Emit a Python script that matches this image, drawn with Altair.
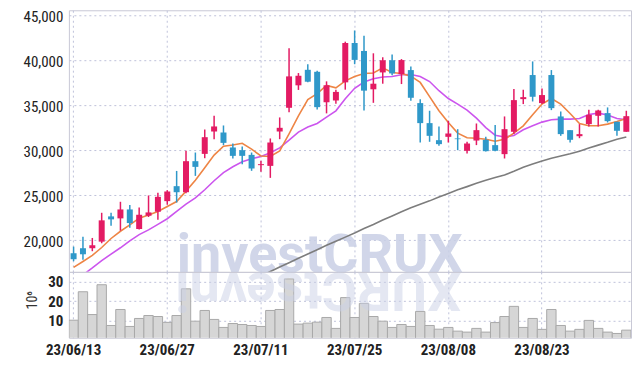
import altair as alt
import pandas as pd

dates = [
    "23/06/13", "23/06/14", "23/06/15", "23/06/16", "23/06/19", "23/06/20", "23/06/21", "23/06/22", "23/06/23", "23/06/26",
    "23/06/27", "23/06/28", "23/06/29", "23/06/30", "23/07/03", "23/07/04", "23/07/05", "23/07/06", "23/07/07", "23/07/10",
    "23/07/11", "23/07/12", "23/07/13", "23/07/14", "23/07/17", "23/07/18", "23/07/19", "23/07/20", "23/07/21", "23/07/24",
    "23/07/25", "23/07/26", "23/07/27", "23/07/28", "23/07/31", "23/08/01", "23/08/02", "23/08/03", "23/08/04", "23/08/07",
    "23/08/08", "23/08/09", "23/08/10", "23/08/11", "23/08/14", "23/08/16", "23/08/17", "23/08/18", "23/08/21", "23/08/22",
    "23/08/23", "23/08/24", "23/08/25", "23/08/28", "23/08/29", "23/08/30", "23/08/31", "23/09/01", "23/09/04", "23/09/05",
]
opens = [
    18565, 19120, 19120, 19850, 22650, 22430, 23420, 21250, 22720, 23170,
    24340, 26000, 25330, 28770, 29580, 32060, 31950, 30290, 29990, 29470,
    28330, 28250, 32060, 34690, 37180, 38900, 38680, 35310, 35500, 37510,
    41870, 40990, 36740, 38610, 39960, 38430, 38870, 35210, 32990, 31100,
    31470, 31290, 29920, 31060, 31140, 30550, 29550, 32030, 35650, 38320,
    35210, 38320, 33730, 32210, 31540, 32880, 33800, 34100, 33140, 32030,
]
highs = [
    19300, 20400, 20260, 23050, 23050, 24270, 23900, 23640, 24970, 25260,
    25560, 27690, 29920, 29730, 32280, 33800, 32730, 30730, 30400, 29730,
    28810, 31290, 33620, 41280, 38540, 39520, 38790, 37620, 36700, 42020,
    43260, 42670, 40730, 40290, 40600, 40090, 39280, 35650, 34360, 32620,
    33250, 32320, 30920, 32950, 31470, 32770, 33730, 36760, 36690, 39830,
    36840, 38870, 34280, 32210, 32880, 34470, 34470, 34730, 33140, 34360,
]
lows = [
    17680, 17830, 18790, 19670, 21620, 21070, 21400, 21210, 22580, 22280,
    23940, 24180, 25220, 27140, 29100, 31210, 30550, 29070, 28440, 27700,
    27590, 26920, 31210, 34190, 36670, 37510, 34510, 34070, 35130, 36700,
    39520, 34400, 35240, 37360, 38300, 37320, 35470, 30840, 30920, 30470,
    30840, 29990, 29620, 30550, 29840, 29880, 29070, 31770, 35100, 35390,
    35100, 34430, 31580, 30840, 31320, 32620, 32620, 33060, 31580, 32030,
]
closes = [
    17900, 18450, 19450, 22210, 22320, 23420, 21910, 22830, 23090, 24820,
    25410, 25330, 28770, 28140, 31430, 32620, 30800, 29360, 29360, 27960,
    28440, 30840, 32470, 38170, 38240, 37580, 34760, 37180, 36450, 41870,
    40000, 36590, 37360, 39960, 38500, 39980, 35800, 32990, 31580, 30660,
    31840, 31210, 30730, 32210, 29880, 29920, 32320, 35540, 35870, 35910,
    36100, 34650, 31770, 31140, 31770, 33910, 34390, 33210, 32140, 33760,
]
volumes = [
    10.3, 24.9, 13.2, 28.5, 7.6, 15.8, 7.1, 11.2, 12.7, 12.2,
    9.2, 12.7, 26.4, 9.8, 15.3, 10.7, 6.6, 8.6, 8.1, 7.6,
    7.1, 15.3, 15.8, 31.5, 8.3, 8.8, 9.3, 11.7, 6.1, 21.9,
    11.7, 18.9, 12.2, 9.8, 6.6, 8.1, 7.1, 14.8, 7.6, 5.7,
    6.6, 4.7, 4.2, 6.1, 4.2, 9.1, 12.2, 17.4, 6.6, 11.2,
    5.6, 15.8, 7.6, 4.7, 5.6, 10.2, 6.1, 4.2, 3.5, 5.2,
]
ma_short = [
    17000, 17650, 18330, 19200, 20200, 21000, 21700, 22450, 22800, 23200,
    23750, 24300, 25450, 26650, 28050, 29450, 30430, 30570, 30760, 30100,
    29350, 29300, 29900, 31800, 33800, 35600, 36250, 37170, 36900, 37680,
    38160, 38500, 38550, 39120, 38600, 38500, 38200, 37500, 35930, 34360,
    33060, 31880, 31360, 31320, 31210, 30990, 31200, 31880, 32690, 33910,
    35100, 35720, 35100, 34060, 32950, 32690, 32690, 32880, 33170, 33500,
]
ma_mid = [
    15400, 16160, 16930, 17740, 18470, 19170, 19930, 20630, 21150, 21760,
    22390, 23200, 24000, 24700, 25600, 26600, 27500, 28150, 28700, 29050,
    29300, 29700, 30250, 31100, 32000, 32550, 32950, 33650, 34350, 35700,
    36850, 37550, 37900, 38100, 38150, 38350, 38380, 38150, 37600, 36580,
    35720, 35100, 34430, 33540, 32500, 31650, 31450, 31620, 32250, 32690,
    33100, 33360, 33430, 33430, 33500, 33950, 34100, 33880, 33500, 33360,
]
ma_long_dates = dates[20:]
ma_long = [
    16050, 16530, 17030, 17520, 18000, 18480, 18960, 19440, 19900, 20350,
    20800, 21300, 21750, 22250, 22700, 23170, 23600, 24000, 24370, 24800,
    25200, 25600, 25950, 26320, 26650, 26950, 27250, 27650, 28100, 28450,
    28800, 29100, 29350, 29600, 29880, 30230, 30550, 30860, 31200, 31450,
]
tick_dates = dates[::10]
price_ticks = [20000, 25000, 30000, 35000, 40000, 45000]
volume_ticks = [10, 20, 30]
watermark = ["investCRUX"]
watermark_mirror = ["XURCtsevni"]

FONT = "Liberation Sans Narrow, Roboto Condensed, Roboto, sans-serif"
RED = "#e31b63"
BLUE = "#2f98c9"
ORANGE = "#ee8545"
PURPLE = "#cc55ee"
GREY = "#7d7d7d"
GRID = "#bfc2da"
W, H_TOP, H_VOL = 563, 262, 66

df = pd.DataFrame({"date": dates, "open": opens, "high": highs, "low": lows,
                   "close": closes, "volume": volumes,
                   "ma_short": ma_short, "ma_mid": ma_mid})
df["dir"] = ["up" if c >= o else "down" for o, c in zip(opens, closes)]
long_df = pd.DataFrame({"date": ma_long_dates, "ma_long": ma_long})

xscale = alt.Scale(type="band", domain=dates, paddingInner=0, paddingOuter=0)
x_top = alt.X("date:O", scale=xscale, sort=dates,
              axis=alt.Axis(title=None, labels=False, ticks=False, domain=False,
                            grid=True, values=tick_dates, bandPosition=0.5,
                            gridDash=[2, 3], gridColor=GRID, minExtent=0, maxExtent=0))
yscale = alt.Scale(domain=[16500, 45500], nice=False, zero=False)
y_axis = alt.Axis(title=None, values=price_ticks, format=",d", ticks=False, domain=False,
                  grid=True, gridDash=[2, 3], gridColor=GRID, labelFontSize=15,
                  labelPadding=6, labelOffset=1.5, minExtent=56, maxExtent=56)
color = alt.Color("dir:N", scale=alt.Scale(domain=["up", "down"], range=[RED, BLUE]), legend=None)

wm = alt.Chart(pd.DataFrame({"t": watermark})).mark_text(
    font="Roboto", fontWeight="bold", fontSize=54, color="#c9d0e6", opacity=0.85,
    align="left", baseline="alphabetic"
).encode(text="t:N", x=alt.value(108), y=alt.value(262))

base = alt.Chart(df)
grey_line = alt.Chart(long_df).mark_line(color=GREY, strokeWidth=1.6, clip=True).encode(
    x=x_top, y=alt.Y("ma_long:Q", scale=yscale, axis=y_axis))
purple_line = base.mark_line(color=PURPLE, strokeWidth=1.6, clip=True).encode(
    x=x_top, y=alt.Y("ma_mid:Q", scale=yscale, axis=y_axis))
orange_line = base.mark_line(color=ORANGE, strokeWidth=1.6, clip=True).encode(
    x=x_top, y=alt.Y("ma_short:Q", scale=yscale, axis=y_axis))
wicks = base.mark_rule(strokeWidth=1.5).encode(
    x=x_top, y=alt.Y("low:Q", scale=yscale, axis=y_axis), y2="high:Q", color=color)
bodies = base.mark_bar(width=6).encode(
    x=x_top, y=alt.Y("open:Q", scale=yscale, axis=y_axis), y2="close:Q", color=color)

top = alt.layer(wm, grey_line, purple_line, orange_line, wicks, bodies).properties(
    width=W, height=H_TOP)

x_bot = alt.X("date:O", scale=xscale, sort=dates,
              axis=alt.Axis(title=None, ticks=False, domain=False, grid=True,
                            values=tick_dates, bandPosition=0.5, gridDash=[2, 3],
                            gridColor=GRID, labelAngle=0, labelFontSize=15,
                            labelFontWeight="bold", labelPadding=5))
vol_bars = base.mark_bar(fill="#d6d6d6", stroke="#a9a9a9", strokeWidth=1, clip=True).encode(
    x=x_bot,
    y=alt.Y("volume:Q", scale=alt.Scale(domain=[1.3, 35.1], nice=False, zero=False),
            axis=alt.Axis(title="10⁶", values=volume_ticks, ticks=False, domain=False,
                          grid=True, gridDash=[2, 3], gridColor=GRID, labelFontSize=15,
                          labelFontWeight="bold", labelPadding=6, minExtent=56, maxExtent=56,
                          titleFontSize=14, titleFontWeight="normal", titleAngle=-90,
                          titleX=-36, titleY=28, titleAlign="center", titleBaseline="middle",
                          titleColor="#333")),
    y2=alt.datum(0))
mirror = alt.Chart(pd.DataFrame({"t": watermark_mirror})).mark_text(
    font="Roboto", fontWeight="bold", fontSize=54, color="#c9d0e6", opacity=0.5,
    align="left", baseline="alphabetic", angle=180, clip=True
).encode(text="t:N", x=alt.value(393), y=alt.value(1))

bottom = alt.layer(vol_bars, mirror).properties(width=W, height=H_VOL)

chart = alt.vconcat(top, bottom, spacing=0, bounds="flush").properties(
    padding={"left": 4, "top": 0, "right": 2, "bottom": 2}, background="white"
).configure_view(stroke="#c9c9d6", strokeWidth=1).configure_axis(
    labelFont=FONT, titleFont=FONT, labelColor="#222")

chart.save("out.html", embed_options={"renderer": "svg", "actions": False})
